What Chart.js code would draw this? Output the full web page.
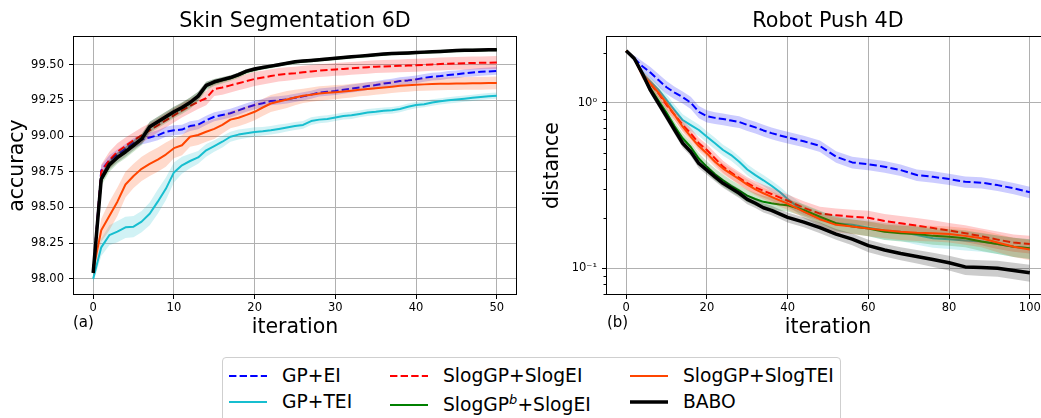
<!DOCTYPE html>
<html>
<head>
<meta charset="utf-8">
<script src="https://cdn.jsdelivr.net/npm/chart.js@4.4.1/dist/chart.umd.min.js"></script>
<style>
  html, body { margin: 0; padding: 0; background: #fff; overflow: hidden; width: 1041px; height: 418px; }
  body { position: relative; font-family: 'DejaVu Sans', sans-serif; color: #000; }
  canvas { position: absolute; top: 0; }
  #chartA { left: 0; }
  #chartB { left: 535px; }
  .ttl { position: absolute; top: 8px; height: 24px; line-height: 24px; font-size: 20.7px; white-space: nowrap; transform: translateX(-50%); }
  .tag { position: absolute; top: 313px; font-size: 15px; line-height: 18px; }
  #legend { position: absolute; left: 222px; top: 357px; width: 617px; height: 80px; border: 1px solid #cfcfcf; border-radius: 4px; background: #fff; }
  .item { position: absolute; height: 24px; line-height: 24px; font-size: 18.7px; white-space: nowrap; }
  .item svg { position: absolute; left: 0; top: 9px; }
  .item .lbl { position: absolute; left: 53px; top: 0; }
  .sup { position: relative; top: -7px; font-size: 13px; font-style: italic; }
</style>
</head>
<body>
<canvas id="chartA" width="530" height="340"></canvas>
<canvas id="chartB" width="525" height="340"></canvas>

<div class="ttl" style="left:295px">Skin Segmentation 6D</div>
<div class="ttl" style="left:828px">Robot Push 4D</div>
<div class="tag" style="left:73px">(a)</div>
<div class="tag" style="left:607px">(b)</div>

<div id="legend">
  <div class="item" style="left:6px; top:6px">
    <svg width="38" height="6"><line x1="0" y1="3" x2="38" y2="3" stroke="#0000ff" stroke-width="2" stroke-dasharray="7.4 3.2"/></svg>
    <span class="lbl">GP+EI</span>
  </div>
  <div class="item" style="left:6px; top:32px">
    <svg width="38" height="6"><line x1="0" y1="3" x2="38" y2="3" stroke="#17becf" stroke-width="2"/></svg>
    <span class="lbl">GP+TEI</span>
  </div>
  <div class="item" style="left:167px; top:6px">
    <svg width="38" height="6"><line x1="0" y1="3" x2="38" y2="3" stroke="#ff0000" stroke-width="2" stroke-dasharray="7.4 3.2"/></svg>
    <span class="lbl">SlogGP+SlogEI</span>
  </div>
  <div class="item" style="left:167px; top:35px">
    <svg width="38" height="6"><line x1="0" y1="3" x2="38" y2="3" stroke="#008000" stroke-width="2"/></svg>
    <span class="lbl">SlogGP<span class="sup">b</span>+SlogEI</span>
  </div>
  <div class="item" style="left:407px; top:6px">
    <svg width="38" height="6"><line x1="0" y1="3" x2="38" y2="3" stroke="#ff4500" stroke-width="2"/></svg>
    <span class="lbl">SlogGP+SlogTEI</span>
  </div>
  <div class="item" style="left:407px; top:32px">
    <svg width="38" height="6"><line x1="0" y1="3" x2="38" y2="3" stroke="#000000" stroke-width="3.5"/></svg>
    <span class="lbl">BABO</span>
  </div>
</div>

<script>
// --- Data: (a) Skin Segmentation 6D ---
const ITER_A = [0,1,2,3,4,5,6,7,8,9,10,11,12,13,14,15,16,17,18,19,20,21,22,23,24,25,26,27,28,29,30,
  31,32,33,34,35,36,37,38,39,40,41,42,43,44,45,46,47,48,49,50];
const TICKS_X_A = [0, 10, 20, 30, 40, 50];
const TICKS_Y_A = [98.0, 98.25, 98.5, 98.75, 99.0, 99.25, 99.5];

const gpEI_A = [98.05,98.76,98.83,98.87,98.91,98.95,98.975,98.99,99.005,99.03,99.04,
  99.045,99.07,99.08,99.11,99.135,99.147,99.16,99.18,99.2,99.217,
  99.23,99.245,99.25,99.257,99.268,99.278,99.29,99.305,99.31,99.315,
  99.325,99.333,99.34,99.35,99.357,99.368,99.375,99.385,99.39,99.397,
  99.408,99.416,99.42,99.428,99.432,99.44,99.445,99.45,99.453,99.456];
const gpEI_A_std = [0.02,0.035,0.035,0.035,0.035,0.035,0.035,0.035,0.035,0.035,0.035,
  0.034,0.034,0.033,0.033,0.032,0.032,0.031,0.031,0.03,0.03,
  0.03,0.03,0.029,0.029,0.029,0.029,0.028,0.028,0.028,0.028,
  0.028,0.028,0.028,0.027,0.027,0.027,0.027,0.027,0.027,0.027,
  0.027,0.027,0.027,0.027,0.027,0.027,0.027,0.027,0.027,0.027];

const gpTEI_A = [98.0,98.22,98.305,98.33,98.36,98.365,98.4,98.455,98.54,98.63,98.745,
  98.795,98.825,98.85,98.9,98.93,98.96,98.995,99.01,99.02,99.028,
  99.033,99.04,99.05,99.06,99.07,99.078,99.105,99.115,99.12,99.13,
  99.14,99.145,99.155,99.165,99.17,99.177,99.18,99.19,99.205,99.217,
  99.223,99.235,99.243,99.25,99.256,99.262,99.268,99.274,99.279,99.283];
const gpTEI_A_std = [0.03,0.06,0.07,0.075,0.075,0.075,0.075,0.08,0.085,0.08,0.07,
  0.06,0.05,0.045,0.045,0.04,0.04,0.035,0.035,0.033,0.033,
  0.03,0.03,0.03,0.028,0.028,0.027,0.027,0.026,0.026,0.025,
  0.025,0.025,0.024,0.024,0.024,0.023,0.023,0.023,0.023,0.022,
  0.022,0.022,0.022,0.022,0.022,0.022,0.022,0.022,0.022,0.022];

const slogEI_A = [98.05,98.75,98.83,98.89,98.93,98.97,99.005,99.04,99.075,99.11,99.145,
  99.18,99.21,99.24,99.265,99.33,99.34,99.355,99.37,99.385,99.4,
  99.41,99.42,99.43,99.435,99.44,99.447,99.453,99.458,99.462,99.467,
  99.47,99.474,99.478,99.482,99.486,99.488,99.49,99.492,99.494,99.496,
  99.499,99.502,99.505,99.507,99.509,99.51,99.512,99.513,99.514,99.515];
const slogEI_A_std = [0.02,0.05,0.06,0.06,0.06,0.055,0.055,0.05,0.05,0.05,0.05,
  0.05,0.05,0.05,0.05,0.05,0.05,0.05,0.05,0.05,0.05,
  0.048,0.048,0.047,0.047,0.046,0.046,0.045,0.045,0.045,0.045,
  0.045,0.045,0.045,0.045,0.045,0.045,0.045,0.045,0.045,0.045,
  0.045,0.045,0.045,0.045,0.045,0.045,0.045,0.045,0.045,0.045];

const slogGPb_A = [98.04,98.69,98.79,98.845,98.885,98.93,98.975,99.06,99.095,99.13,99.165,
  99.195,99.23,99.275,99.35,99.375,99.39,99.405,99.425,99.45,99.465,
  99.478,99.488,99.498,99.508,99.517,99.523,99.528,99.533,99.538,99.543,
  99.548,99.553,99.558,99.563,99.568,99.572,99.576,99.578,99.58,99.583,
  99.586,99.589,99.592,99.595,99.598,99.6,99.601,99.602,99.603,99.604];
const slogGPb_A_std = [0.02,0.04,0.04,0.04,0.04,0.04,0.04,0.04,0.04,0.04,0.04,
  0.04,0.04,0.035,0.03,0.025,0.022,0.02,0.018,0.016,0.015,
  0.014,0.014,0.013,0.013,0.013,0.012,0.012,0.012,0.012,0.012,
  0.012,0.012,0.012,0.012,0.012,0.012,0.012,0.012,0.012,0.012,
  0.012,0.012,0.012,0.012,0.012,0.012,0.012,0.012,0.012,0.012];

const slogTEI_A = [98.06,98.34,98.44,98.54,98.66,98.72,98.77,98.805,98.835,98.87,98.915,
  98.935,98.995,99.007,99.03,99.05,99.078,99.115,99.128,99.148,99.17,
  99.2,99.228,99.242,99.256,99.27,99.282,99.29,99.298,99.303,99.307,
  99.312,99.318,99.325,99.33,99.335,99.34,99.346,99.352,99.356,99.36,
  99.362,99.364,99.366,99.367,99.368,99.369,99.37,99.37,99.371,99.372];
const slogTEI_A_std = [0.03,0.08,0.1,0.1,0.09,0.085,0.085,0.085,0.085,0.085,0.07,
  0.07,0.07,0.07,0.07,0.07,0.06,0.06,0.06,0.06,0.06,
  0.06,0.06,0.06,0.06,0.055,0.05,0.05,0.05,0.05,0.05,
  0.048,0.048,0.047,0.047,0.046,0.046,0.045,0.045,0.045,0.045,
  0.045,0.045,0.045,0.045,0.045,0.045,0.045,0.045,0.045,0.045];

const babo_A = [98.04,98.7,98.8,98.85,98.89,98.935,98.98,99.065,99.1,99.135,99.17,
  99.2,99.235,99.28,99.355,99.38,99.395,99.41,99.43,99.455,99.47,
  99.48,99.49,99.5,99.51,99.52,99.525,99.53,99.535,99.54,99.545,
  99.55,99.555,99.56,99.565,99.57,99.575,99.578,99.58,99.582,99.585,
  99.588,99.59,99.593,99.596,99.6,99.601,99.602,99.603,99.604,99.605];
const babo_A_std = [0.02,0.035,0.035,0.035,0.035,0.035,0.035,0.035,0.035,0.035,0.035,
  0.035,0.035,0.03,0.025,0.02,0.018,0.016,0.015,0.014,0.013,
  0.012,0.012,0.012,0.011,0.011,0.011,0.011,0.011,0.011,0.011,
  0.01,0.01,0.01,0.01,0.01,0.01,0.01,0.01,0.01,0.01,
  0.01,0.01,0.01,0.01,0.01,0.01,0.01,0.01,0.01,0.01];

// --- Data: (b) Robot Push 4D ---
const ITER_B = [0,2,4,6,8,10,12,14,16,18,20,22,24,26,28,30,32,34,36,38,40,
  44,48,52,56,60,64,68,72,76,80,84,88,92,96,100];
const TICKS_X_B = [0, 20, 40, 60, 80, 100];
const TICKS_Y_B = [0.1, 1];
const MINOR_Y_B = [0.07, 0.08, 0.09, 0.2, 0.3, 0.4, 0.5, 0.6, 0.7, 0.8, 0.9, 2];

const gpEI_B = [2.06,1.85,1.66,1.52,1.37,1.24,1.15,1.08,1.0,0.88,0.83,0.81,0.797,0.78,0.765,0.735,0.71,0.68,0.655,0.635,0.617,
  0.585,0.548,0.472,0.436,0.425,0.411,0.392,0.366,0.357,0.346,0.333,0.329,0.318,0.304,0.288];
const gpEI_B_std = [0.02,0.08,0.12,0.12,0.12,0.11,0.1,0.09,0.085,0.075,0.07,0.067,0.065,0.063,0.062,0.06,0.058,0.056,0.054,0.052,0.05,
  0.047,0.044,0.038,0.035,0.034,0.033,0.031,0.029,0.028,0.027,0.026,0.026,0.025,0.024,0.023];

const gpTEI_B = [2.06,1.85,1.5,1.34,1.2,1.04,0.903,0.786,0.733,0.684,0.623,0.569,0.518,0.483,0.44,0.395,0.365,0.34,0.315,0.29,0.262,
  0.22,0.2,0.187,0.183,0.176,0.169,0.166,0.159,0.152,0.15,0.147,0.145,0.14,0.135,0.132];
const gpTEI_B_std = [0.02,0.05,0.08,0.09,0.09,0.08,0.07,0.065,0.06,0.055,0.05,0.045,0.04,0.037,0.034,0.03,0.028,0.026,0.024,0.022,0.021,
  0.02,0.02,0.02,0.02,0.02,0.02,0.02,0.02,0.019,0.019,0.019,0.019,0.018,0.018,0.018];

const slogEI_B = [2.06,1.85,1.48,1.3,1.14,0.968,0.843,0.733,0.653,0.569,0.518,0.461,0.411,0.378,0.352,0.327,0.308,0.294,0.281,0.268,0.256,
  0.232,0.214,0.209,0.205,0.202,0.193,0.187,0.181,0.175,0.169,0.163,0.156,0.149,0.143,0.14];
const slogEI_B_std = [0.02,0.05,0.08,0.08,0.075,0.07,0.06,0.055,0.05,0.045,0.042,0.038,0.035,0.032,0.03,0.028,0.027,0.026,0.025,0.024,0.023,
  0.022,0.021,0.021,0.021,0.021,0.02,0.02,0.02,0.02,0.019,0.019,0.018,0.018,0.017,0.017];

const slogGPb_B = [2.06,1.85,1.5,1.22,1.03,0.87,0.72,0.61,0.54,0.46,0.41,0.37,0.34,0.315,0.295,0.275,0.262,0.252,0.247,0.243,0.24,
  0.225,0.205,0.187,0.179,0.174,0.166,0.163,0.161,0.157,0.155,0.152,0.145,0.14,0.135,0.132];
const slogGPb_B_std = [0.02,0.05,0.08,0.08,0.07,0.06,0.05,0.045,0.04,0.035,0.032,0.03,0.028,0.026,0.025,0.024,0.023,0.022,0.021,0.02,0.02,
  0.019,0.018,0.018,0.018,0.018,0.018,0.018,0.018,0.018,0.018,0.018,0.018,0.018,0.018,0.018];

const slogTEI_B = [2.06,1.85,1.47,1.31,1.15,0.99,0.843,0.716,0.623,0.547,0.494,0.44,0.4,0.372,0.345,0.32,0.3,0.284,0.27,0.257,0.246,
  0.22,0.198,0.183,0.179,0.174,0.17,0.166,0.164,0.163,0.161,0.157,0.152,0.143,0.135,0.13];
const slogTEI_B_std = [0.02,0.05,0.08,0.08,0.075,0.07,0.06,0.05,0.045,0.04,0.036,0.033,0.03,0.028,0.026,0.025,0.024,0.023,0.022,0.021,0.02,
  0.019,0.018,0.018,0.018,0.018,0.018,0.018,0.018,0.018,0.018,0.018,0.018,0.018,0.018,0.018];

const babo_B = [2.06,1.85,1.5,1.19,0.99,0.823,0.684,0.569,0.506,0.43,0.392,0.357,0.326,0.304,0.284,0.261,0.247,0.232,0.224,0.213,0.203,
  0.19,0.176,0.161,0.15,0.137,0.129,0.123,0.118,0.113,0.108,0.102,0.101,0.1,0.097,0.094];
const babo_B_std = [0.02,0.04,0.06,0.06,0.05,0.045,0.04,0.035,0.03,0.028,0.025,0.022,0.02,0.019,0.018,0.017,0.016,0.015,0.015,0.014,0.014,
  0.013,0.013,0.012,0.012,0.012,0.011,0.011,0.011,0.011,0.011,0.011,0.011,0.011,0.011,0.011];

// --- Styles (plot order: first drawn at the bottom) ---
const STYLE = {
  gpEI:    { color: '#0000ff', band: 'rgba(0,0,255,0.2)',    dash: [7.4, 3.2], width: 2 },
  gpTEI:   { color: '#17becf', band: 'rgba(23,190,207,0.2)', dash: [],         width: 2 },
  slogEI:  { color: '#ff0000', band: 'rgba(255,0,0,0.2)',    dash: [7.4, 3.2], width: 2 },
  slogGPb: { color: '#008000', band: 'rgba(0,128,0,0.2)',    dash: [],         width: 2 },
  slogTEI: { color: '#ff4500', band: 'rgba(255,69,0,0.2)',   dash: [],         width: 2 },
  babo:    { color: '#000000', band: 'rgba(0,0,0,0.2)',      dash: [],         width: 3.5 }
};

const FONT = 'DejaVu Sans';

// mean line + shaded band (mean ± std) for every method
function buildDatasets(xs, list) {
  const out = [];
  const n = list.length;
  list.forEach((s, k) => {
    const base = (n - k) * 3;
    const pts = (f) => xs.map((x, i) => ({ x, y: f(i) }));
    out.push({ data: pts(i => s.mean[i] - s.std[i]), borderColor: 'rgba(0,0,0,0)', borderWidth: 0,
      pointRadius: 0, fill: false, order: base + 2 });
    out.push({ data: pts(i => s.mean[i] + s.std[i]), borderColor: 'rgba(0,0,0,0)', borderWidth: 0,
      pointRadius: 0, fill: '-1', backgroundColor: s.style.band, order: base + 1 });
    out.push({ data: pts(i => s.mean[i]), borderColor: s.style.color, borderWidth: s.style.width,
      borderDash: s.style.dash, borderJoinStyle: 'round', pointRadius: 0, fill: false, order: base });
  });
  return out;
}

// full box around the plot area, like matplotlib spines
const framePlugin = {
  id: 'frame',
  afterDraw(chart, args, opts) {
    const { ctx, chartArea: a } = chart;
    ctx.save();
    ctx.strokeStyle = '#000';
    ctx.lineWidth = 1;
    if (opts.minor) {
      const ys = chart.scales.y;
      opts.minor.forEach(v => {
        const py = Math.round(ys.getPixelForValue(v)) + 0.5;
        ctx.beginPath();
        ctx.moveTo(Math.round(a.left) - 2.5, py);
        ctx.lineTo(Math.round(a.left), py);
        ctx.stroke();
      });
    }
    ctx.strokeRect(Math.round(a.left) + 0.5, Math.round(a.top) + 0.5,
      Math.round(a.right - a.left) - 1, Math.round(a.bottom - a.top) - 1);
    ctx.restore();
  }
};

function axisCommon(ticksArr, pad, tickCb) {
  return {
    afterBuildTicks: (scale) => { scale.ticks = ticksArr.map(v => ({ value: v })); },
    ticks: { font: { family: FONT, size: 11.5 }, color: '#000', padding: pad, autoSkip: false,
      maxRotation: 0, callback: tickCb },
    grid: { color: '#b0b0b0', lineWidth: 1, tickLength: 4, tickColor: '#000' },
    border: { display: false }
  };
}

function makeChart(id, cfg) {
  return new Chart(document.getElementById(id), {
    type: 'line',
    data: { datasets: cfg.datasets },
    options: {
      responsive: false,
      animation: false,
      parsing: true,
      layout: { padding: { left: 0, right: cfg.padRight, top: 36, bottom: 0 } },
      plugins: { legend: { display: false }, tooltip: { enabled: false }, frame: { minor: cfg.minor } },
      scales: {
        x: Object.assign(axisCommon(cfg.xTicks, 2, v => String(v)), {
          type: 'linear', min: cfg.xMin, max: cfg.xMax,
          title: { display: true, text: 'iteration', color: '#000',
            font: { family: FONT, size: 20.5 }, padding: { top: 0, bottom: 0 } },
          afterFit: (s) => { s.height = 45; }
        }),
        y: Object.assign(axisCommon(cfg.yTicks, 5, cfg.yLabel), {
          type: cfg.yType, min: cfg.yMin, max: cfg.yMax,
          title: { display: true, text: cfg.yTitle, color: '#000',
            font: { family: FONT, size: 20.5 }, padding: { top: 5, bottom: 0 } },
          afterFit: (s) => { s.width = cfg.yWidth; }
        })
      }
    },
    plugins: [framePlugin]
  });
}

makeChart('chartA', {
  datasets: buildDatasets(ITER_A, [
    { mean: gpEI_A, std: gpEI_A_std, style: STYLE.gpEI },
    { mean: gpTEI_A, std: gpTEI_A_std, style: STYLE.gpTEI },
    { mean: slogEI_A, std: slogEI_A_std, style: STYLE.slogEI },
    { mean: slogGPb_A, std: slogGPb_A_std, style: STYLE.slogGPb },
    { mean: slogTEI_A, std: slogTEI_A_std, style: STYLE.slogTEI },
    { mean: babo_A, std: babo_A_std, style: STYLE.babo }
  ]),
  padRight: 13, yWidth: 73,
  xMin: -2.5, xMax: 52.5, xTicks: TICKS_X_A,
  yType: 'linear', yMin: 97.886, yMax: 99.701, yTicks: TICKS_Y_A,
  yLabel: v => v.toFixed(2), yTitle: 'accuracy'
});

makeChart('chartB', {
  datasets: buildDatasets(ITER_B, [
    { mean: gpEI_B, std: gpEI_B_std, style: STYLE.gpEI },
    { mean: gpTEI_B, std: gpTEI_B_std, style: STYLE.gpTEI },
    { mean: slogEI_B, std: slogEI_B_std, style: STYLE.slogEI },
    { mean: slogGPb_B, std: slogGPb_B_std, style: STYLE.slogGPb },
    { mean: slogTEI_B, std: slogTEI_B_std, style: STYLE.slogTEI },
    { mean: babo_B, std: babo_B_std, style: STYLE.babo }
  ]),
  padRight: 10, yWidth: 71, minor: MINOR_Y_B,
  xMin: -5, xMax: 105, xTicks: TICKS_X_B,
  yType: 'logarithmic', yMin: 0.069, yMax: 2.528, yTicks: TICKS_Y_B,
  yLabel: v => (Math.abs(v - 1) < 1e-9 ? '10\u2070' : (Math.abs(v - 0.1) < 1e-9 ? '10\u207B\u00B9' : '')),
  yTitle: 'distance'
});
</script>
</body>
</html>
